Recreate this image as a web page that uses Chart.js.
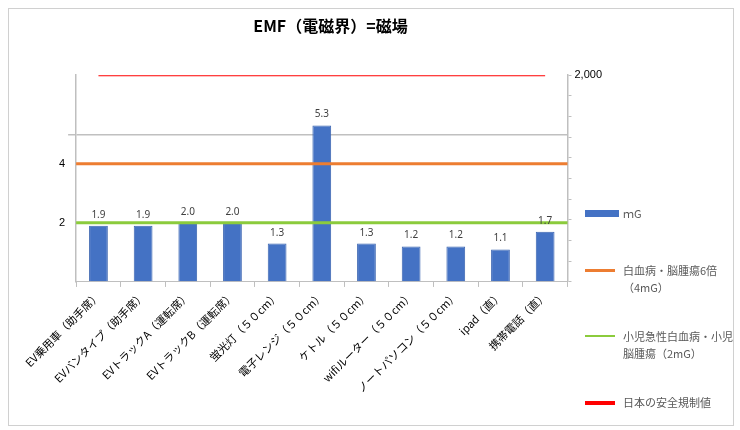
<!DOCTYPE html><html><head><meta charset="utf-8">
<script src="https://cdn.jsdelivr.net/npm/chart.js@4"></script>
<style>body{margin:0;background:#fff;font-family:"Noto Sans CJK JP",sans-serif}
#box{position:absolute;left:8px;top:8px;width:724px;height:416px;border:1px solid #d0d0d0}
#lg{position:absolute;left:585px;top:205px;width:150px;font-size:11px;color:#595959;line-height:17px}
.it{position:relative;padding-left:38px;margin-bottom:32px}
.sw{position:absolute;left:0;top:7px;width:30px}
</style></head><body>
<div id="box"></div>
<canvas id="c" width="740" height="430" style="position:absolute;left:0;top:0"></canvas>
<div id="lg">
<div class="it" style="margin-bottom:40px"><span class="sw" style="height:7px;top:5px;background:#4472c4;width:34px"></span>ｍG</div>
<div class="it"><span class="sw" style="height:3px;background:#ed7d31"></span>白血病・脳腫瘍6倍<br>（4mG）</div>
<div class="it"><span class="sw" style="height:2px;background:#8bcb3c"></span>小児急性白血病・小児<br>脳腫瘍（2mG）</div>
<div class="it"><span class="sw" style="height:4px;background:#ff0000"></span>日本の安全規制値</div>
</div>
<script>
const categories=["EV乗用車（助手席）","EVバンタイプ（助手席）","EVトラックA（運転席）","EVトラックB（運転席）","蛍光灯（５０cm）","電子レンジ（５０cm）","ケトル（５０cm）","wifiルーター（５０cm）","ノートパソコン（５０cm）","ipad（直）","携帯電話（直）"];
const mG=[1.9,1.9,2.0,2.0,1.3,5.3,1.3,1.2,1.2,1.1,1.7];
const leukemia6x=4;
const childLeukemia=2;
const japanLimit=categories.map(()=>2000);
const refLines=[{v:leukemia6x,c:'#ed7d31',w:3},{v:childLeukemia,c:'#8bcb3c',w:3}];
const plug={id:'p',afterDatasetsDraw(ch){const x=ch.ctx,y=ch.scales.y,a=ch.chartArea;
x.save();refLines.forEach(r=>{x.strokeStyle=r.c;x.lineWidth=r.w;x.beginPath();const p=y.getPixelForValue(r.v);x.moveTo(a.left,p);x.lineTo(a.right,p);x.stroke();});
const m=ch.getDatasetMeta(0);x.fillStyle='#404040';x.font='10px "Noto Sans",sans-serif';x.textAlign='center';
m.data.forEach((b,i)=>x.fillText(mG[i].toFixed(1),b.x,b.y-8));x.restore();}};
new Chart(document.getElementById('c'),{type:'bar',data:{labels:categories,datasets:[
{label:'ｍG',data:mG,backgroundColor:'#4472c4',borderColor:'#3a64b0',borderWidth:1,barPercentage:0.42,categoryPercentage:1,yAxisID:'y',order:2},
{type:'line',label:'日本の安全規制値',data:japanLimit,borderColor:'#ff0000',borderWidth:2,pointRadius:0,yAxisID:'y2',order:1}]},
options:{responsive:false,animation:false,layout:{padding:{left:56,right:135,top:0,bottom:33}},
plugins:{legend:{display:false},tooltip:{enabled:false},title:{display:true,text:'EMF（電磁界）=磁場',color:'#000',font:{size:16,weight:'bold',family:'"Noto Sans CJK JP"'},padding:{top:16,bottom:40}}},
scales:{x:{grid:{display:true,drawOnChartArea:false,color:'#bfbfbf',tickLength:5,offset:true},border:{color:'#bfbfbf'},ticks:{maxRotation:45,minRotation:45,color:'#000',font:{size:11,family:'"Noto Sans CJK JP"'},padding:2}},
y:{min:0,max:7,ticks:{stepSize:1,color:'#000',font:{size:11},callback:v=>(v===2||v===4)?v:''},grid:{color:c=>c.tick&&c.tick.value===5?'#c0c0c0':'rgba(0,0,0,0)',drawTicks:true,tickColor:c=>c.tick&&c.tick.value===5?'#c0c0c0':'rgba(0,0,0,0)',lineWidth:1.5},border:{color:'#bfbfbf',width:1.5}},
y2:{position:'right',min:0,max:2000,ticks:{stepSize:200,color:'#000',font:{size:11},callback:v=>v===2000?'2,000':''},grid:{drawOnChartArea:false,color:'#bfbfbf',tickLength:4},border:{color:'#bfbfbf',width:1.5}}}},plugins:[plug]});
</script></body></html>
